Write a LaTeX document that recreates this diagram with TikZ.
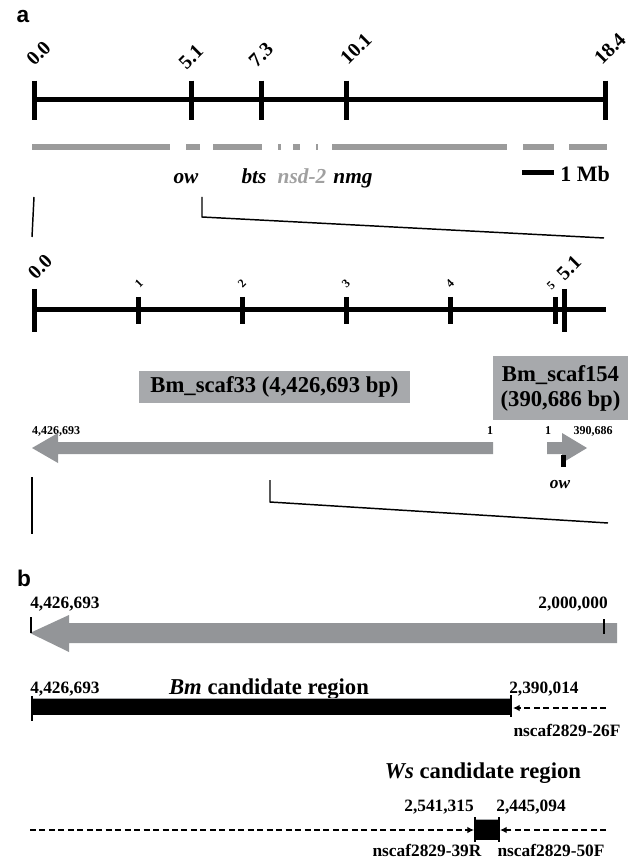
\documentclass[tikz,border=0pt]{standalone}
\usepackage{fontspec}
\setmainfont{Liberation Serif}
\newfontfamily\panelfont{Liberation Sans}
\usetikzlibrary{arrows.meta}
\definecolor{arrowgray}{RGB}{147,149,152}
\definecolor{boxgray}{RGB}{167,169,172}
\definecolor{bargray}{RGB}{155,155,155}
\definecolor{lightlab}{RGB}{160,160,160}
\begin{document}
\begin{tikzpicture}[x=0.75pt,y=-0.75pt,
  panel/.style={font=\panelfont\bfseries\fontsize{17}{20}\selectfont, inner sep=0},
  rotlab/.style={rotate=45, font=\bfseries\fontsize{15}{18}\selectfont, inner sep=0},
  smallrot/.style={rotate=45, font=\bfseries\fontsize{9}{11}\selectfont, inner sep=0},
  gene/.style={font=\bfseries\itshape\fontsize{16}{19}\selectfont, inner sep=0, anchor=base},
  chrom/.style={line width=3.75pt},
  tickmark/.style={line width=3.75pt},
  gbar/.style={bargray, line width=4.5pt},
  zoomline/.style={line width=1.1pt},
  scafbox/.style={fill=boxgray, inner sep=0, font=\bfseries\fontsize{17}{18.75}\selectfont, align=center},
  poslab/.style={font=\bfseries\fontsize{9}{11}\selectfont, inner sep=0, anchor=base},
  bpos/.style={font=\bfseries\fontsize{13}{15}\selectfont, inner sep=0, anchor=base},
  region/.style={font=\bfseries\fontsize{17}{20}\selectfont, inner sep=0, anchor=base},
  garrow/.style={fill=arrowgray},
  endtick/.style={line width=1.8pt},
  primer/.style={line width=1.4pt, dash pattern=on 4.5pt off 2.6pt, -{Latex[length=5pt,width=5pt]}},
]
\useasboundingbox (0,0) rectangle (636,862);

% ---------------- panel a ----------------
\node[panel] (pa) at (23,17) {a};

% top chromosome
\coordinate (t0) at (34,100);
\coordinate (t51) at (191,100);
\coordinate (t73) at (261,100);
\coordinate (t101) at (346,100);
\coordinate (t184) at (605,100);
\draw[chrom] (t0) -- (t184);
\foreach \p in {t0,t51,t73,t101,t184}
  \draw[tickmark] ([yshift=14.5pt]\p) -- ([yshift=-15pt]\p);
\node[rotlab] (l00) at (38.5,53.5) {0.0};
\node[rotlab] (l51) at (191,57) {5.1};
\node[rotlab] (l73) at (261,55) {7.3};
\node[rotlab] (l101) at (356,49) {10.1};
\node[rotlab] (l184) at (610,49) {18.4};

% gray coverage bar
\foreach \a/\b in {32/170,186/200,213/262,278/280.5,293/300,316/317.5,332/507,523/554,569/607}
  \draw[gbar] (\a,147) -- (\b,147);

% gene labels
\node[gene] (gow) at (186,184) {ow};
\node[gene] (gbts) at (254,184) {bts};
\node[gene, text=lightlab] (gnsd) at (302,184) {nsd-2};
\node[gene] (gnmg) at (353,184) {nmg};

% scale bar
\coordinate (sb0) at (522,173);
\coordinate (sb1) at (554,173);
\draw[line width=3.75pt] (sb0) -- (sb1);
\node[font=\bfseries\fontsize{16.5}{19}\selectfont, inner sep=0, anchor=base west] (mb) at (560,182) {1 Mb};

% zoom lines
\coordinate (za1) at (34,197);
\coordinate (za2) at (32,237);
\coordinate (zb1) at (202,197);
\coordinate (zb2) at (202,217);
\coordinate (zb3) at (604,238);
\draw[zoomline] (za1) -- (za2);
\draw[zoomline] (zb1) -- (zb2) -- (zb3);

% second scale
\coordinate (s0) at (34,310);
\coordinate (s1) at (138,310);
\coordinate (s2) at (242,310);
\coordinate (s3) at (346,310);
\coordinate (s4) at (450,310);
\coordinate (s5) at (555,310);
\coordinate (s51) at (564,310);
\coordinate (send) at (606,310);
\draw[chrom] (s0) -- (send);
\foreach \p in {s0,s51}
  \draw[tickmark] ([yshift=15.75pt]\p) -- ([yshift=-16.5pt]\p);
\foreach \p in {s1,s2,s3,s4,s5}
  \draw[tickmark] ([yshift=9.75pt]\p) -- ([yshift=-10.5pt]\p);
\node[rotlab] (m00) at (40,267) {0.0};
\node[smallrot] (m1) at (139,284) {1};
\node[smallrot] (m2) at (242,284) {2};
\node[smallrot] (m3) at (346,284) {3};
\node[smallrot] (m4) at (450,284) {4};
\node[smallrot] (m5) at (551,286) {5};
\node[rotlab] (m51) at (569,268) {5.1};

% scaffolds
\node[scafbox, minimum width=203.25pt, minimum height=24pt] (scaf33) at (274.5,387) {Bm\_scaf33 (4,426,693 bp)};
\node[scafbox, minimum width=101.25pt, minimum height=48pt] (scaf154) at (560.5,388) {Bm\_scaf154\\(390,686 bp)};

\node[poslab] (p33a) at (56,434) {4,426,693};
\node[poslab] (p33b) at (490,434) {1};
\node[poslab] (p154a) at (548,434) {1};
\node[poslab] (p154b) at (593,434) {390,686};

\fill[garrow] (493,442) -- (58,442) -- (58,433) -- (32,448) -- (58,463) -- (58,454) -- (493,454) -- cycle;
\fill[garrow] (547,442) -- (562,442) -- (562,433) -- (587,448) -- (562,463) -- (562,454) -- (547,454) -- cycle;
\fill (561,455) rectangle (566,467);
\node[font=\bfseries\itshape\fontsize{13}{15}\selectfont, inner sep=0, anchor=base] (ow2) at (560,488) {ow};

\coordinate (zc1) at (32,477);
\coordinate (zc2) at (32,534);
\coordinate (zd1) at (270,480);
\coordinate (zd2) at (270,502);
\coordinate (zd3) at (608,523);
\draw[zoomline] (zc1) -- (zc2);
\draw[zoomline] (zd1) -- (zd2) -- (zd3);

% ---------------- panel b ----------------
\node[panel] (pb) at (24,578) {b};

\node[bpos, anchor=base west] (b1) at (30,608) {4,426,693};
\node[bpos, anchor=base east] (b2) at (608,608) {2,000,000};
\fill[garrow] (617,623) -- (69,623) -- (69,615) -- (30,633) -- (69,652) -- (69,643) -- (617,643) -- cycle;
\draw[endtick] (31,617) -- (31,633);
\draw[endtick] (604,619) -- (604,634);

\node[bpos, anchor=base west] (c1) at (30,693) {4,426,693};
\node[region] (bmreg) at (269,694) {\textit{Bm} candidate region};
\node[bpos, anchor=base west] (c2) at (509,693) {2,390,014};

\fill (32,698) rectangle (511,715);
\draw[line width=1pt, boxgray] (33,698.7) -- (510,698.7);
\draw[endtick] (32,696) -- (32,721);
\draw[endtick] (511,695) -- (511,717);
\coordinate (p26s) at (606,708);
\coordinate (p26e) at (513,708);
\draw[primer] (p26s) -- (p26e);
\node[bpos] (n26) at (567,736) {nscaf2829-26F};

\node[region] (wsreg) at (483,778) {\textit{Ws} candidate region};
\node[bpos] (w1) at (439,811) {2,541,315};
\node[bpos] (w2) at (531,811) {2,445,094};

\fill (475,819) rectangle (499,840);
\draw[line width=1pt, boxgray] (476,819.7) -- (498,819.7);
\draw[endtick] (475,817) -- (475,842);
\draw[endtick] (499,817) -- (499,842);
\coordinate (p39s) at (30,830);
\coordinate (p39e) at (474,830);
\coordinate (p50s) at (606,830);
\coordinate (p50e) at (500,830);
\draw[primer] (p39s) -- (p39e);
\draw[primer] (p50s) -- (p50e);
\node[bpos] (n39) at (427,856) {nscaf2829-39R};
\node[bpos] (n50) at (551,856) {nscaf2829-50F};
\end{tikzpicture}
\end{document}
